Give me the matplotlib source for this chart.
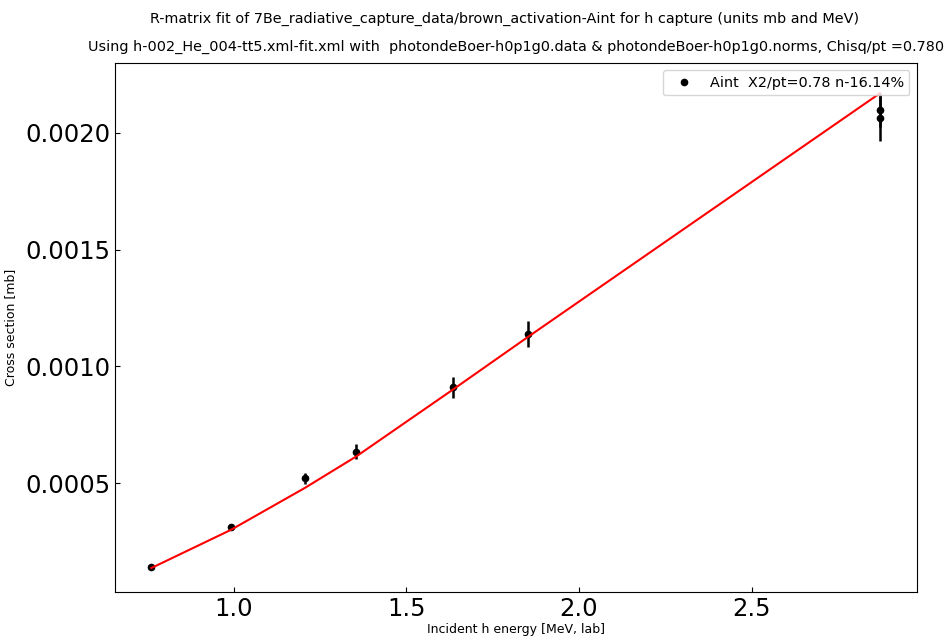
"""
R-matrix fit plot for 7Be radiative capture (Aint activation data).
"""

import matplotlib

matplotlib.use("Agg")
import matplotlib.pyplot as plt

# measured points: incident h energy [MeV lab], cross section [mb], error [mb]
energy = [0.761, 0.991, 1.206, 1.354, 1.634, 1.853, 2.871, 2.873]
xsec = [0.000143, 0.000314, 0.000521, 0.000635, 0.000911, 0.001140, 0.002097, 0.002064]
xsec_err = [0.000004, 0.000009, 0.000024, 0.000031, 0.000045, 0.000056, 0.000071, 0.000100]

# R-matrix fit evaluated at the data energies
fit_energy = [0.761, 0.991, 1.206, 1.354, 1.634, 1.853, 2.872]
fit_xsec = [0.000137, 0.000300, 0.000480, 0.000614, 0.000900, 0.001127, 0.002169]

title_1 = "R-matrix fit of 7Be_radiative_capture_data/brown_activation-Aint for h capture (units mb and MeV)"
title_2 = ("Using h-002_He_004-tt5.xml-fit.xml with  photondeBoer-h0p1g0.data & "
           "photondeBoer-h0p1g0.norms, Chisq/pt =0.780")
legend_label = "Aint  X2/pt=0.78 n-16.14%"

fig = plt.figure(figsize=(9.47, 6.39), dpi=100)
ax = fig.add_axes([0.1214, 0.0731, 0.8466, 0.8288])

ax.errorbar(energy, xsec, yerr=xsec_err, fmt="none", ecolor="black",
            elinewidth=1.8, capsize=0)
ax.plot(energy, xsec, "o", color="black", markersize=4.5, label=legend_label)
ax.plot(fit_energy, fit_xsec, color="red", linewidth=1.5)

ax.margins(x=0.05)
ax.set_ylim(0.000033, 0.0023)
ax.set_yticks([0.0005, 0.0010, 0.0015, 0.0020])
ax.tick_params(direction="in", labelsize=17.5, length=3.5)

ax.set_xlabel("Incident h energy [MeV, lab]", fontsize=9, labelpad=1)
ax.set_ylabel("Cross section [mb]", fontsize=9, labelpad=6)
ax.legend(loc="upper right", fontsize=10.4)

# heading: run description on top, fit file / chisq line over the axes
fig.text(0.533, 0.970, title_1, ha="center", va="center", fontsize=10.4)
fig.text(0.545, 0.926, title_2, ha="center", va="center", fontsize=10.4)

fig.savefig("out.png", dpi=100)
plt.close(fig)
